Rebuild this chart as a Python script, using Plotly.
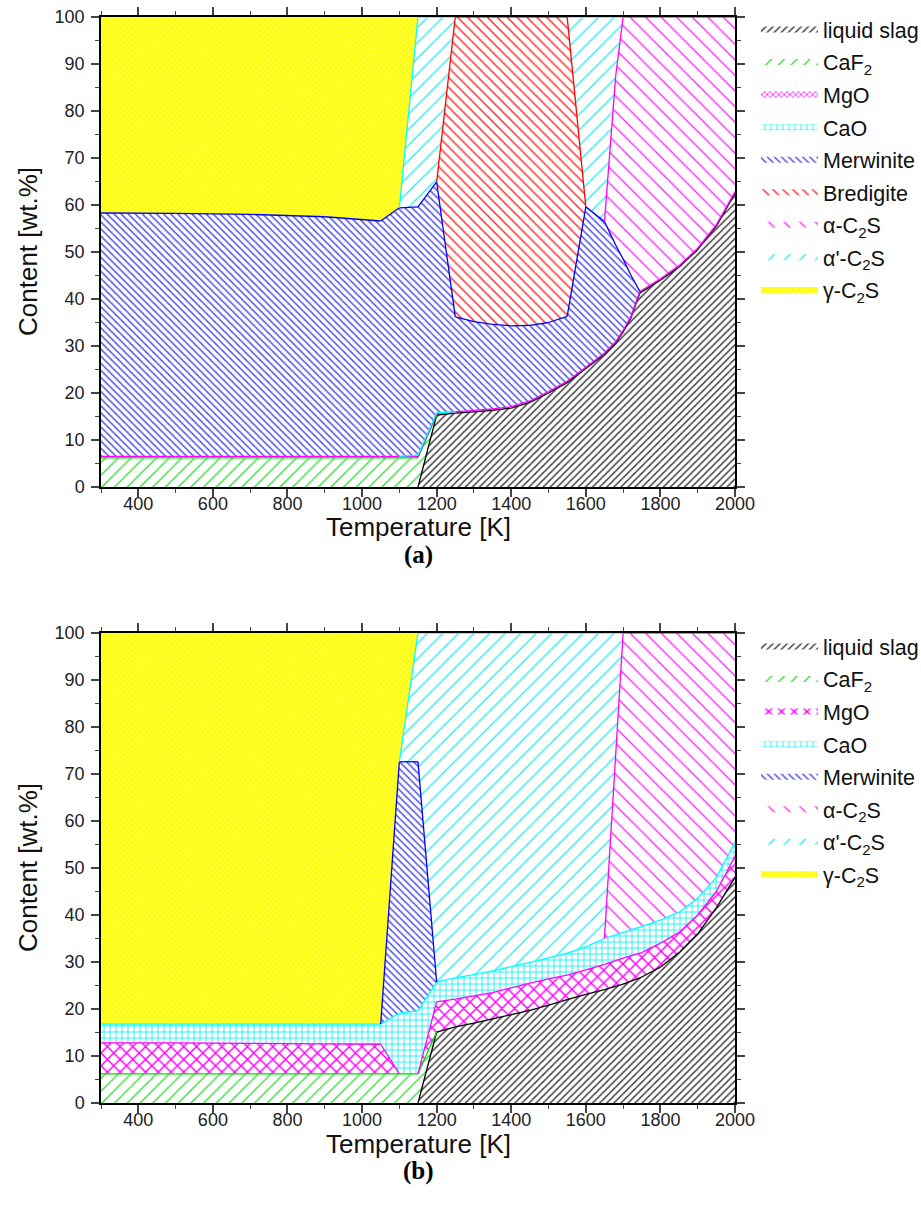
import numpy as np
import plotly.graph_objects as go

# ---------------- Panel (a) data: phase contents [wt.%] ----------------
T_a = [300, 500, 700, 900, 1050, 1100, 1150, 1200, 1250, 1300, 1350, 1400, 1450,
       1500, 1550, 1600, 1650, 1680, 1700, 1720, 1745, 1800, 1850, 1900, 1950, 2000]
liquid_a = [0, 0, 0, 0, 0, 0, 0, 15.3, 15.7, 16.0, 16.3, 16.8, 18.0,
            20.0, 22.2, 25.2, 28.2, 30.6, 33.0, 35.8, 41.3, 44.0, 46.8, 50.5, 55.5, 62.5]
caf2_a = [6.2, 6.2, 6.2, 6.2, 6.2, 6.2, 6.2, 0, 0, 0, 0, 0, 0,
          0, 0, 0, 0, 0, 0, 0, 0, 0, 0, 0, 0, 0]
mgo_a = [0.3] * 26
cao_a = [0, 0, 0, 0, 0, 0, 0.3, 0.2, 0, 0, 0, 0, 0,
         0, 0, 0, 0, 0, 0, 0, 0, 0, 0, 0, 0, 0]
merwinite_a = [51.8, 51.7, 51.5, 51.0, 50.1, 52.9, 52.8, 49.1, 20.2, 18.9, 18.0, 17.2, 16.1,
               14.7, 13.8, 34.1, 28.0, 20.6, 15.2, 9.1, 0, 0, 0, 0, 0, 0]
bredigite_a = [0, 0, 0, 0, 0, 0, 0, 0, 63.8, 64.8, 65.4, 65.7, 65.6,
               65.0, 63.7, 0, 0, 0, 0, 0, 0, 0, 0, 0, 0, 0]
alpha_a = [0, 0, 0, 0, 0, 0, 0, 0, 0, 0, 0, 0, 0,
           0, 0, 0, 0, 35.9, 51.5, 54.8, 58.4, 55.7, 52.9, 49.2, 44.2, 37.2]
alphap_a = [0, 0, 0, 0, 0, 0, 40.4, 35.1, 0, 0, 0, 0, 0,
            0, 0, 40.4, 43.5, 12.6, 0, 0, 0, 0, 0, 0, 0, 0]
gamma_a = [41.7, 41.8, 42.0, 42.5, 43.4, 40.6, 0, 0, 0, 0, 0, 0, 0,
           0, 0, 0, 0, 0, 0, 0, 0, 0, 0, 0, 0, 0]

# ---------------- Panel (b) data ----------------
T_b = [300, 500, 700, 900, 1050, 1100, 1150, 1200, 1250, 1300, 1350, 1400, 1450,
       1500, 1550, 1600, 1650, 1700, 1750, 1800, 1850, 1900, 1950, 2000]
liquid_b = [0, 0, 0, 0, 0, 0, 0, 15.1, 16.2, 17.0, 17.9, 18.8, 19.7,
            20.8, 22.0, 23.1, 24.1, 25.3, 26.8, 28.9, 32.0, 36.0, 41.5, 48.0]
caf2_b = [6.2, 6.2, 6.2, 6.2, 6.2, 6.2, 6.2, 0, 0, 0, 0, 0, 0,
          0, 0, 0, 0, 0, 0, 0, 0, 0, 0, 0]
mgo_b = [6.6, 6.6, 6.5, 6.4, 6.3, 0, 0, 6.4, 5.9, 5.8, 5.6, 5.7, 5.8,
         5.6, 5.2, 5.2, 5.4, 5.5, 5.2, 5.1, 4.3, 4.0, 3.5, 4.5]
cao_b = [4.0, 4.0, 4.1, 4.2, 4.3, 12.9, 13.4, 4.2, 4.5, 4.5, 4.6, 4.5, 4.4,
         4.5, 4.7, 4.9, 5.5, 5.5, 5.6, 4.9, 4.3, 3.6, 3.0, 3.0]
merwinite_b = [0, 0, 0, 0, 0, 53.5, 53.0, 0, 0, 0, 0, 0, 0,
               0, 0, 0, 0, 0, 0, 0, 0, 0, 0, 0]
alpha_b = [0, 0, 0, 0, 0, 0, 0, 0, 0, 0, 0, 0, 0,
           0, 0, 0, 0, 63.7, 62.4, 61.1, 59.4, 56.4, 52.0, 44.5]
alphap_b = [0, 0, 0, 0, 0, 0, 27.4, 74.3, 73.4, 72.7, 71.9, 71.0, 70.1,
            69.1, 68.1, 66.8, 65.0, 0, 0, 0, 0, 0, 0, 0]
gamma_b = [83.2, 83.2, 83.2, 83.2, 83.2, 27.4, 0, 0, 0, 0, 0, 0, 0,
           0, 0, 0, 0, 0, 0, 0, 0, 0, 0, 0]

# ---------------- styles ----------------
STYLE = {
    "liquid slag": dict(shape="/", fg="#444444", size=5, sol=0.3, line="#000000"),
    "CaF<sub>2</sub>": dict(shape="/", fg="#33dd33", size=9, sol=0.15, line="#00dd00"),
    "MgO_a": dict(shape="x", fg="#ff00ff", size=4, sol=0.35, line="#ff00ff"),
    "MgO_b": dict(shape="x", fg="#ff00ff", size=9, sol=0.3, line="#ff00ff"),
    "CaO": dict(shape="+", fg="#00eeee", size=6, sol=0.25, line="#00ffff"),
    "Merwinite": dict(shape="\\", fg="#5555e8", size=5, sol=0.3, line="#0000ff"),
    "Bredigite": dict(shape="\\", fg="#ff3030", size=7, sol=0.22, line="#ff0000"),
    "α-C<sub>2</sub>S": dict(shape="\\", fg="#ff22ff", size=11, sol=0.12, line="#ff00ff"),
    "α'-C<sub>2</sub>S": dict(shape="/", fg="#22eeee", size=11, sol=0.12, line="#00ffff"),
    "γ-C<sub>2</sub>S": dict(shape="x", fg="#ffffb0", size=4, sol=0.25, line="#ffff00", bg="#ffff00"),
}

panel_a = [("liquid slag", liquid_a, "liquid slag"), ("CaF<sub>2</sub>", caf2_a, "CaF<sub>2</sub>"),
           ("MgO", mgo_a, "MgO_a"), ("CaO", cao_a, "CaO"), ("Merwinite", merwinite_a, "Merwinite"),
           ("Bredigite", bredigite_a, "Bredigite"), ("α-C<sub>2</sub>S", alpha_a, "α-C<sub>2</sub>S"),
           ("α'-C<sub>2</sub>S", alphap_a, "α'-C<sub>2</sub>S"), ("γ-C<sub>2</sub>S", gamma_a, "γ-C<sub>2</sub>S")]
panel_b = [("liquid slag", liquid_b, "liquid slag"), ("CaF<sub>2</sub>", caf2_b, "CaF<sub>2</sub>"),
           ("MgO", mgo_b, "MgO_b"), ("CaO", cao_b, "CaO"), ("Merwinite", merwinite_b, "Merwinite"),
           ("α-C<sub>2</sub>S", alpha_b, "α-C<sub>2</sub>S"),
           ("α'-C<sub>2</sub>S", alphap_b, "α'-C<sub>2</sub>S"), ("γ-C<sub>2</sub>S", gamma_b, "γ-C<sub>2</sub>S")]

fig = go.Figure()


def add_panel(T, phases, xa, ya, leg, grp):
    T = np.array(T, dtype=float)
    vals = np.array([p[1] for p in phases], dtype=float)
    tops = np.cumsum(vals, axis=0)
    for name, v, key in phases:
        s = STYLE[key]
        fig.add_trace(go.Scatter(
            x=T, y=v, stackgroup=grp, mode="none", name=name,
            legend=leg, legendgroup=grp + name,
            fillpattern=dict(shape=s["shape"], fgcolor=s["fg"], bgcolor=s.get("bg", "white"),
                             size=s["size"], solidity=s["sol"], fillmode="replace"),
            xaxis=xa, yaxis=ya, hoverinfo="skip"))
    # boundary lines: top edge of each phase where it exists
    for i, (name, v, key) in enumerate(phases):
        xs, ys = [], []
        for j in range(len(T) - 1):
            if vals[i, j] > 0 or vals[i, j + 1] > 0:
                xs += [T[j], T[j + 1], None]
                ys += [tops[i, j], tops[i, j + 1], None]
        fig.add_trace(go.Scatter(x=xs, y=ys, mode="lines", showlegend=False,
                                 line=dict(color=STYLE[key]["line"], width=1.3),
                                 xaxis=xa, yaxis=ya, hoverinfo="skip"))


add_panel(T_a, panel_a, "x", "y", "legend", "a")
add_panel(T_b, panel_b, "x2", "y2", "legend2", "b")

W, H = 921, 1217
ml, mr, mt, mb = 101, 186, 17, 114
ph = H - mt - mb
pw = W - ml - mr
top_dom = [(1103 - 487) / ph, 1.0]
bot_dom = [0.0, (1103 - 633) / ph]


def py(pix):  # page pixel row -> paper y
    return (H - mb - pix) / ph


def px(pix):  # page pixel column -> paper x
    return (pix - ml) / pw


FONT = "Liberation Sans, Arial, sans-serif"
tickfont = dict(family=FONT, size=18, color="#222222")
titlefont = dict(family=FONT, size=26, color="#111111")

xcommon = dict(range=[300, 2000], tick0=0, dtick=200, ticks="outside", ticklen=8, tickwidth=1.5,
               showline=True, linecolor="black", linewidth=1.5, mirror="ticks",
               showgrid=False, zeroline=False, tickfont=tickfont, ticklabelstandoff=-8,
               minor=dict(ticks="outside", ticklen=4, tickwidth=1.2, dtick=100, tick0=0, showgrid=False),
               layer="above traces")
ycommon = dict(range=[0, 100], tick0=0, dtick=10, ticks="outside", ticklen=8, tickwidth=1.5,
               showline=True, linecolor="black", linewidth=1.5, mirror="ticks",
               showgrid=False, zeroline=False, tickfont=tickfont, ticklabelstandoff=3,
               minor=dict(ticks="outside", ticklen=4, tickwidth=1.2, dtick=5, tick0=0, showgrid=False),
               layer="above traces")

legcommon = dict(x=px(756), xanchor="left", yanchor="top", font=dict(family=FONT, size=21.5, color="#111111"),
                 bgcolor="rgba(0,0,0,0)", tracegroupgap=1.6, itemwidth=57, traceorder="grouped")

serif = dict(family="Liberation Serif, Times New Roman, serif", size=25, color="black")
annotations = []
for ytitle, yletter, letter, ycenter in [(527, 555, "(a)", (17 + 487) / 2), (1144, 1171, "(b)", (633 + 1103) / 2)]:
    annotations.append(dict(text="Temperature [K]", x=0.5, y=py(ytitle), xref="paper", yref="paper",
                            xanchor="center", yanchor="middle", showarrow=False, font=titlefont))
    annotations.append(dict(text="<b>" + letter + "</b>", x=0.5, y=py(yletter), xref="paper", yref="paper",
                            xanchor="center", yanchor="middle", showarrow=False, font=serif))
    annotations.append(dict(text="Content [wt.%]", x=px(28), y=py(ycenter), xref="paper", yref="paper",
                            xanchor="center", yanchor="middle", textangle=-90, showarrow=False, font=titlefont))

fig.update_layout(
    width=W, height=H, margin=dict(l=ml, r=mr, t=mt, b=mb, autoexpand=False),
    paper_bgcolor="white", plot_bgcolor="white",
    xaxis=dict(**xcommon, anchor="y"),
    yaxis=dict(**ycommon, domain=top_dom, anchor="x"),
    xaxis2=dict(**xcommon, anchor="y2"),
    yaxis2=dict(**ycommon, domain=bot_dom, anchor="x2"),
    legend=dict(**legcommon, y=py(17 - 8)),
    legend2=dict(**legcommon, y=py(633 - 7)),
    annotations=annotations,
)

fig.write_html("out.html")
